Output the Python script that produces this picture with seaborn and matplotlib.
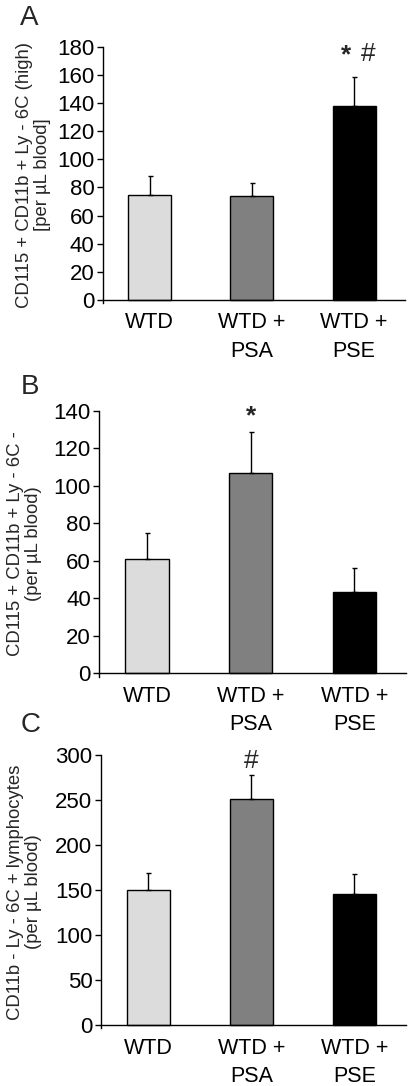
import numpy as np
import pandas as pd
import seaborn as sns
import matplotlib.pyplot as plt

# group labels and colours
groups = ["WTD", "WTD +\nPSA", "WTD +\nPSE"]
bar_colors = ["#dcdcdc", "#808080", "#000000"]

# panel A: CD115+ CD11b+ Ly-6C (high)
mean_a = [74.7, 73.8, 138.2]
err_a = [13.6, 9.6, 20.6]
# panel B: CD115+ CD11b+ Ly-6C-
mean_b = [60.7, 106.8, 43.4]
err_b = [14.2, 21.8, 12.8]
# panel C: CD11b- Ly-6C+ lymphocytes
mean_c = [150.2, 251.6, 145.4]
err_c = [18.7, 26.8, 22.7]

sns.set_style("ticks")
plt.rcParams["font.family"] = ["Liberation Sans", "DejaVu Sans"]

fig = plt.figure(figsize=(4.08, 10.86), dpi=100)

panels = [
    dict(letter="A", mean=mean_a, err=err_a, ymax=180, step=20,
         ylabel="CD115 + CD11b + Ly - 6C (high)\n[per µL blood]",
         rect=[0.252, 0.721, 0.741, 0.236], labx=-0.17, letter_y=0.995,
         marks=[("*", 1.92, 174), ("#", 2.14, 175)]),
    dict(letter="B", mean=mean_b, err=err_b, ymax=140, step=20,
         ylabel="CD115 + CD11b + Ly - 6C -\n(per µL blood)",
         rect=[0.243, 0.377, 0.753, 0.245], labx=-0.185, letter_y=0.656,
         marks=[("*", 1.0, 137)]),
    dict(letter="C", mean=mean_c, err=err_c, ymax=300, step=50,
         ylabel="CD11b - Ly - 6C + lymphocytes\n(per µL blood)",
         rect=[0.247, 0.053, 0.748, 0.2515], labx=-0.192, letter_y=0.344,
         marks=[("#", 1.0, 294)]),
]

for p in panels:
    ax = fig.add_axes(p["rect"])
    df = pd.DataFrame({"group": groups, "value": p["mean"]})
    sns.barplot(data=df, x="group", y="value", hue="group", palette=bar_colors,
                order=groups, hue_order=groups, width=0.42, errorbar=None,
                edgecolor="black", linewidth=1.0, legend=False, ax=ax)
    x = np.arange(len(groups))
    # one-sided (upper) error bars
    ax.errorbar(x, p["mean"], yerr=[np.zeros(len(groups)), p["err"]], fmt="none",
                ecolor="black", elinewidth=1.0, capsize=1.8, capthick=1.0)
    ax.set_xlim(-0.46, 2.5)
    ax.set_ylim(-p["ymax"] * 0.012, p["ymax"])
    ax.set_yticks(np.arange(0, p["ymax"] + 1, p["step"]))
    ax.spines["bottom"].set_position(("data", 0))
    ax.spines["top"].set_visible(False)
    ax.spines["right"].set_visible(False)
    for s in ["left", "bottom"]:
        ax.spines[s].set_linewidth(1.0)
        ax.spines[s].set_color("black")
    ax.tick_params(axis="y", direction="out", length=4, width=1.0,
                   labelsize=16, pad=2, colors="black")
    ax.tick_params(axis="x", length=0, labelsize=15.5, pad=9, colors="black")
    for t in ax.get_xticklabels():
        t.set_linespacing(1.45)
    ax.set_xlabel("")
    ax.set_ylabel(p["ylabel"], fontsize=13.3, linespacing=1.1)
    ax.yaxis.set_label_coords(p["labx"], 0.5)
    for sym, mx, my in p["marks"]:
        ax.text(mx, my, sym, ha="center", va="center", fontsize=19,
                fontweight="bold" if sym == "*" else "normal")
    fig.text(0.05, p["letter_y"], p["letter"], fontsize=20, ha="left", va="top")

fig.savefig("out.png", dpi=100)
